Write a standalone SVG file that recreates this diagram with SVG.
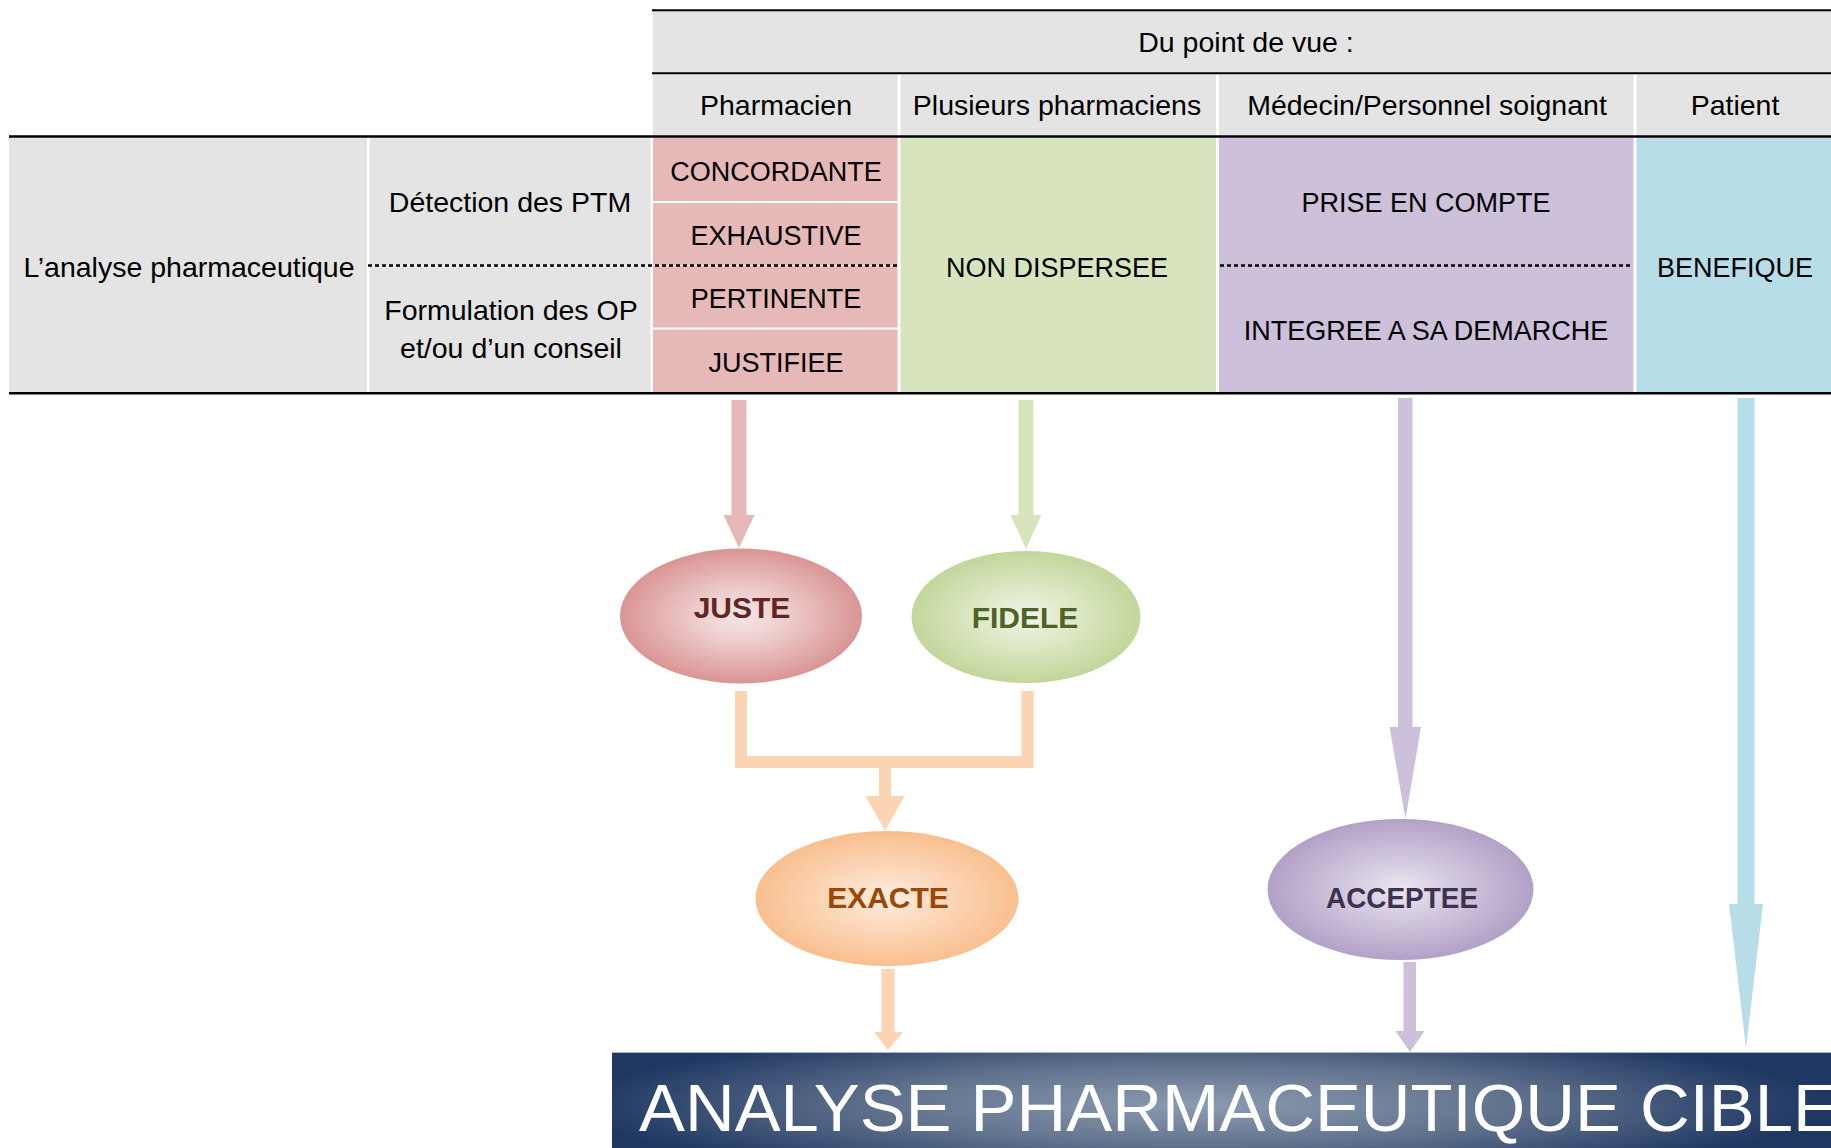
<svg xmlns="http://www.w3.org/2000/svg" width="1831" height="1148" viewBox="0 0 1831 1148">
<style>
  .t { font-family: "Liberation Sans", Arial, sans-serif; font-size: 28.5px; fill: #000; text-anchor: middle; }
  .c { font-size: 27px; }
  .nt { font-family: "Liberation Sans", Arial, sans-serif; font-size: 30px; font-weight: bold; text-anchor: middle; }
  .gray { fill: #e4e4e4; }
  .pink { fill: #e6b8b7; }
  .green { fill: #d7e4bd; }
  .purple { fill: #ccc0da; }
  .blue { fill: #b7dde8; }
  .rule { stroke: #000; fill: none; }
  .dot { stroke: #000; stroke-width: 2.5; stroke-dasharray: 4 3; fill: none; }
</style>
<defs>
  <radialGradient id="gJuste" cx="50%" cy="50%" r="50%">
    <stop offset="0" stop-color="#f7e6e6"/>
    <stop offset="0.35" stop-color="#efcfcf"/>
    <stop offset="1" stop-color="#d99594"/>
  </radialGradient>
  <radialGradient id="gFidele" cx="50%" cy="50%" r="50%">
    <stop offset="0" stop-color="#f0f5e6"/>
    <stop offset="0.35" stop-color="#e1ebcc"/>
    <stop offset="1" stop-color="#c3d69b"/>
  </radialGradient>
  <radialGradient id="gExacte" cx="50%" cy="50%" r="50%">
    <stop offset="0" stop-color="#fdeee2"/>
    <stop offset="0.35" stop-color="#fcdcc2"/>
    <stop offset="1" stop-color="#f9bf8f"/>
  </radialGradient>
  <radialGradient id="gAcceptee" cx="50%" cy="50%" r="50%">
    <stop offset="0" stop-color="#ebe7f0"/>
    <stop offset="0.35" stop-color="#d6cde2"/>
    <stop offset="1" stop-color="#b2a1c7"/>
  </radialGradient>
  <radialGradient id="gBanner" gradientUnits="userSpaceOnUse" cx="0" cy="0" r="1" gradientTransform="translate(1200,1105) scale(620,80)">
    <stop offset="0" stop-color="#8b9bb0"/>
    <stop offset="0.5" stop-color="#62738e"/>
    <stop offset="1" stop-color="#1f3862"/>
  </radialGradient>
</defs>

<g id="table">
  <g id="header-point-de-vue">
    <rect class="gray" x="653" y="11" width="1178" height="62"/>
    <text class="t" x="1246" y="52">Du point de vue :</text>
  </g>
  <g id="hdr-pharmacien">
    <rect class="gray" x="653" y="74.5" width="244.5" height="61"/>
    <text class="t" x="776" y="115">Pharmacien</text>
  </g>
  <g id="hdr-plusieurs">
    <rect class="gray" x="900.5" y="74.5" width="315.5" height="61"/>
    <text class="t" x="1057" y="115">Plusieurs pharmaciens</text>
  </g>
  <g id="hdr-medecin">
    <rect class="gray" x="1219" y="74.5" width="414.5" height="61"/>
    <text class="t" x="1427" y="115">Médecin/Personnel soignant</text>
  </g>
  <g id="hdr-patient">
    <rect class="gray" x="1636.5" y="74.5" width="194.5" height="61"/>
    <text class="t" x="1735" y="115">Patient</text>
  </g>

  <g id="row-analyse">
    <rect class="gray" x="9" y="138" width="358" height="254"/>
    <text class="t" x="189" y="277">L’analyse pharmaceutique</text>
  </g>
  <g id="row-detection">
    <rect class="gray" x="369.5" y="138" width="281" height="127"/>
    <text class="t" x="510" y="212">Détection des PTM</text>
  </g>
  <g id="row-formulation">
    <rect class="gray" x="369.5" y="266" width="281" height="126"/>
    <text class="t" x="511" y="320">Formulation des OP</text>
    <text class="t" x="511" y="358">et/ou d’un conseil</text>
  </g>

  <g id="cell-concordante">
    <rect class="pink" x="653" y="138" width="244.5" height="63"/>
    <text class="t c" x="776" y="181">CONCORDANTE</text>
  </g>
  <g id="cell-exhaustive">
    <rect class="pink" x="653" y="203" width="244.5" height="62"/>
    <text class="t c" x="776" y="245">EXHAUSTIVE</text>
  </g>
  <g id="cell-pertinente">
    <rect class="pink" x="653" y="266" width="244.5" height="61.5"/>
    <text class="t c" x="776" y="308">PERTINENTE</text>
  </g>
  <g id="cell-justifiee">
    <rect class="pink" x="653" y="329.5" width="244.5" height="62.5"/>
    <text class="t c" x="776" y="372">JUSTIFIEE</text>
  </g>
  <g id="cell-non-dispersee">
    <rect class="green" x="900.5" y="138" width="315.5" height="254"/>
    <text class="t c" x="1057" y="277">NON DISPERSEE</text>
  </g>
  <g id="cell-medecin">
    <rect class="purple" x="1219" y="138" width="414.5" height="254"/>
    <text class="t c" x="1426" y="212">PRISE EN COMPTE</text>
    <text class="t c" x="1426" y="340">INTEGREE A SA DEMARCHE</text>
  </g>
  <g id="cell-benefique">
    <rect class="blue" x="1636.5" y="138" width="194.5" height="254"/>
    <text class="t c" x="1735" y="277">BENEFIQUE</text>
  </g>

  <g id="rules">
    <line class="rule" x1="652" y1="10.3" x2="1831" y2="10.3" stroke-width="2"/>
    <line class="rule" x1="652" y1="73.3" x2="1831" y2="73.3" stroke-width="2"/>
    <line class="rule" x1="9" y1="136.5" x2="1831" y2="136.5" stroke-width="2.5"/>
    <line class="rule" x1="9" y1="393.3" x2="1831" y2="393.3" stroke-width="2.5"/>
    <line class="dot" x1="368" y1="265.5" x2="899" y2="265.5"/>
    <line class="dot" x1="1220" y1="265.5" x2="1633" y2="265.5"/>
  </g>
</g>

<g id="connectors">
  <polygon id="arr-pharmacien" class="pink" points="731.5,400 746.5,400 746.5,515 754.5,515 739,548 723.5,515 731.5,515"/>
  <polygon id="arr-plusieurs" class="green" points="1018.5,400 1033.5,400 1033.5,515 1041.5,515 1026,549 1010.5,515 1018.5,515"/>
  <path id="arr-merge" fill="#fbd4b4" d="M735,691 H747 V756 H1021.5 V691 H1033.5 V768 H735 Z"/>
  <polygon id="arr-to-exacte" fill="#fbd4b4" points="879,767 891,767 891,796 904.5,796 885,831 865.5,796 879,796"/>
  <polygon id="arr-exacte-out" fill="#fbd4b4" points="881.5,969 894.5,969 894.5,1032 903,1032 888,1050 874,1032 881.5,1032"/>
  <polygon id="arr-medecin" class="purple" points="1398,398 1412.5,398 1412.5,727 1421,727 1405.5,819 1389.5,727 1398,727"/>
  <polygon id="arr-acceptee-out" class="purple" points="1403.5,962 1416,962 1416,1031 1424.5,1031 1410,1052 1395.5,1031 1403.5,1031"/>
  <polygon id="arr-patient" class="blue" points="1737.5,398 1754.5,398 1754.5,904 1763,904 1746,1048.5 1729,904 1737.5,904"/>
</g>

<g id="node-juste">
  <ellipse cx="741" cy="616" rx="121" ry="67.5" fill="url(#gJuste)"/>
  <text class="nt" x="742" y="618" fill="#632523">JUSTE</text>
</g>
<g id="node-fidele">
  <ellipse cx="1026" cy="617" rx="114.5" ry="66" fill="url(#gFidele)"/>
  <text class="nt" x="1025" y="628" fill="#4f6228">FIDELE</text>
</g>
<g id="node-exacte">
  <ellipse cx="887" cy="898.5" rx="131.5" ry="67.5" fill="url(#gExacte)"/>
  <text class="nt" x="888" y="908" fill="#984807">EXACTE</text>
</g>
<g id="node-acceptee">
  <ellipse cx="1400.5" cy="889.5" rx="133" ry="70.5" fill="url(#gAcceptee)"/>
  <text class="nt" x="1402" y="908" fill="#3f3151" textLength="152" lengthAdjust="spacingAndGlyphs">ACCEPTEE</text>
</g>

<g id="node-banner">
  <rect x="612" y="1052" width="1219" height="96" fill="url(#gBanner)"/>
  <line x1="612" y1="1052.5" x2="1831" y2="1052.5" stroke="#a9b8c8" stroke-width="1"/>
  <text x="639" y="1131" font-family="Liberation Sans, Arial, sans-serif" font-size="67" fill="#ffffff" textLength="1200" lengthAdjust="spacingAndGlyphs">ANALYSE PHARMACEUTIQUE CIBLE</text>
</g>
</svg>
